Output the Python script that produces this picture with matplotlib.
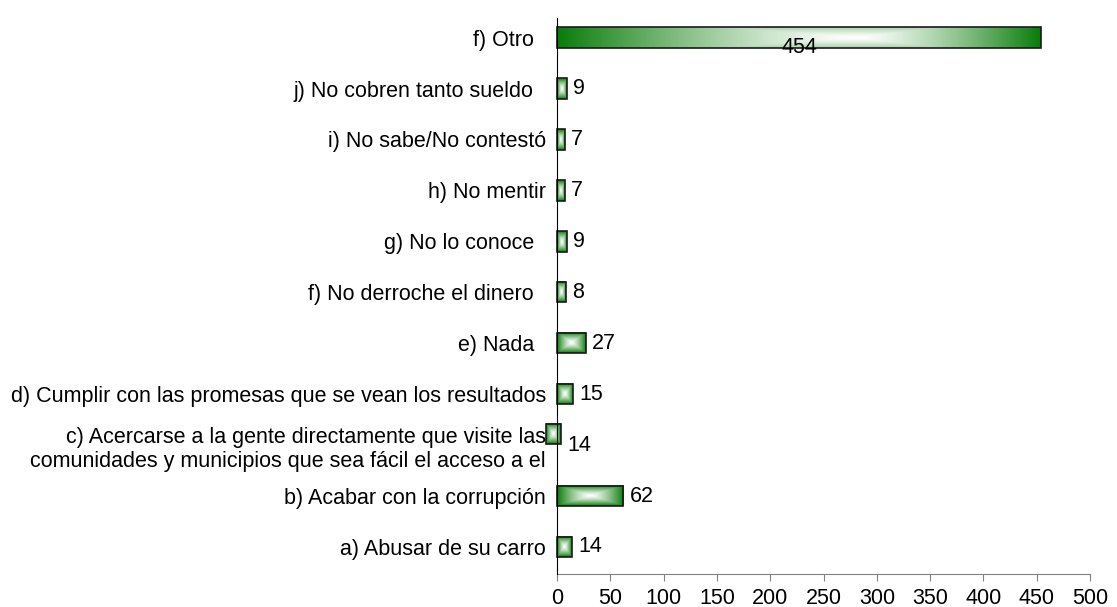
import matplotlib
matplotlib.use("Agg")
import matplotlib.pyplot as plt
import numpy as np
from matplotlib.colors import LinearSegmentedColormap

plt.rcParams['font.family'] = ['Liberation Sans', 'DejaVu Sans']

# datos (de abajo hacia arriba)
categorias = [
    "a) Abusar de su carro",
    "b) Acabar con la corrupción",
    "c) Acercarse a la gente directamente que visite las\ncomunidades y municipios que sea fácil el acceso a el",
    "d) Cumplir con las promesas que se vean los resultados",
    "e) Nada  ",
    "f) No derroche el dinero  ",
    "g) No lo conoce  ",
    "h) No mentir",
    "i) No sabe/No contestó",
    "j) No cobren tanto sueldo  ",
    "f) Otro  ",
]
valores = [14, 62, 14, 15, 27, 8, 9, 7, 7, 9, 454]
# la barra c) aparece desplazada en el original
inicio = [0, 0, -10, 0, 0, 0, 0, 0, 0, 0, 0]
desfase = [0, 0, 0.22, 0, 0, 0, 0, 0, 0, 0, 0]
xticks = [0, 50, 100, 150, 200, 250, 300, 350, 400, 450, 500]

verde = LinearSegmentedColormap.from_list("v", ["#ffffff", "#0a7d0a"])

fig = plt.figure(figsize=(11.17, 6.07), dpi=100)
ax = fig.add_axes([0.4987, 0.0544, 0.4771, 0.9156])

alto = 0.4
fs = 15.5


def degradado(cx, wy):
    # degradado tipo "caja" desde un centro horizontal cx (0..1)
    gy, gx = np.mgrid[-1:1:40j, 0:1:300j]
    dx = np.where(gx < cx, (cx - gx) / cx, (gx - cx) / (1 - cx))
    return np.maximum(dx, wy * np.abs(gy)) ** 1.3


for i, (v, x0, dy) in enumerate(zip(valores, inicio, desfase)):
    y = i + dy
    larga = v > 200
    g = degradado(0.62, 0.45) if larga else degradado(0.5, 1.0)
    ax.imshow(g, cmap=verde, vmin=0, vmax=1,
              extent=(x0, x0 + v, y - alto / 2, y + alto / 2),
              aspect='auto', interpolation='bilinear', zorder=2, clip_on=False)
    ax.add_patch(plt.Rectangle((x0, y - alto / 2), v, alto, fill=False,
                               edgecolor='#1a1a1a', lw=1.2, zorder=3, clip_on=False))
    if larga:
        ax.text(x0 + v / 2, y - 0.2, str(v), ha='center', va='center',
                fontsize=fs, zorder=4)
    else:
        ax.text(x0 + v + 6, i, str(v), ha='left', va='center', fontsize=fs, zorder=4)

ax.set_xlim(0, 500)
ax.set_ylim(-0.53, 10.38)
ax.set_xticks(xticks)
ax.set_xticklabels([str(t) for t in xticks], fontsize=fs)
ax.set_yticks(range(len(categorias)))
ax.set_yticklabels(categorias, fontsize=fs)
ax.tick_params(axis='y', length=0, pad=8)
ax.tick_params(axis='x', length=5, color='#808080', pad=5, direction='out')
ax.spines['top'].set_visible(False)
ax.spines['right'].set_visible(False)
ax.spines['bottom'].set_color('#808080')
ax.spines['left'].set_color('black')
ax.spines['left'].set_zorder(5)

fig.savefig("out.png", dpi=100)
